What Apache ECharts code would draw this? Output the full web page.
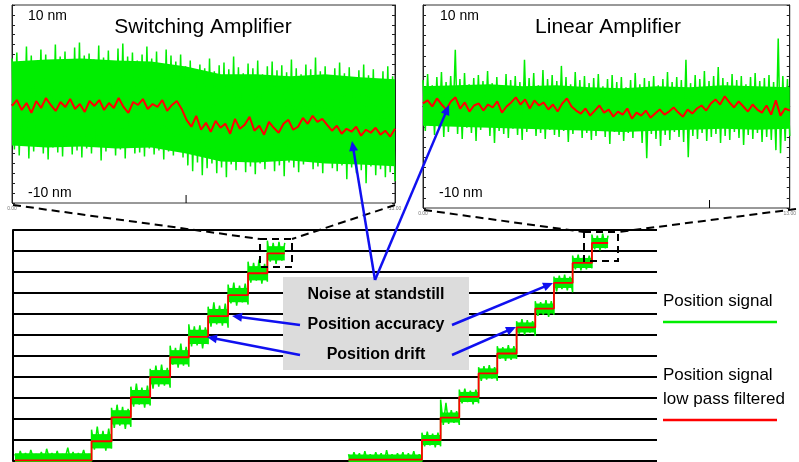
<!DOCTYPE html>
<html><head><meta charset="utf-8">
<script src="https://cdn.jsdelivr.net/npm/echarts@6/dist/echarts.min.js"></script>
<style>html,body{margin:0;padding:0;background:#fff}#c{width:799px;height:462px}</style>
</head><body><div id="c"></div>
<script>
// ---------- main staircase data (time in s, position in steps) ----------
const leftT = [0.3, 12.2, 15.3, 18.3, 21.3, 24.4, 27.3, 30.3, 33.4, 36.5, 39.5, 42.2];
const leftLevel = [0.03, 0.94, 2.08, 3.04, 3.99, 4.94, 5.91, 6.9, 7.9, 8.94, 9.89];
const leftCoreHalf = 0.34;
const leftNoise = [
  [0.3,-0.1,0.45,0.05,0.35,-0.05,0.5,0.1,0.3,0.0,0.4,-0.1,0.55,0.1,0.35,0.0,0.45,-0.05,0.3,0.1,0.6,0.0,0.4,-0.1,0.35,0.05,0.5,0.0,0.3,-0.05],
  [0.55,-0.4,0.7,-0.3,0.5,-0.45,0.6,-0.35],
  [0.45,-0.5,0.6,-0.4,0.5,-0.55,0.4,-0.45],
  [0.5,-0.45,0.65,-0.35,0.45,-0.5,0.55,-0.4],
  [0.4,-0.55,0.55,-0.45,0.6,-0.4,0.45,-0.5],
  [0.55,-0.35,0.45,-0.5,0.65,-0.4,0.5,-0.45],
  [0.6,-0.45,0.5,-0.4,0.55,-0.55,0.45,-0.35],
  [0.45,-0.5,0.65,-0.4,0.5,-0.45,0.6,-0.55],
  [0.5,-0.4,0.6,-0.5,0.45,-0.35,0.55,-0.45],
  [0.55,-0.45,0.5,-0.35,0.65,-0.5,0.45,-0.4],
  [0.6,-0.4,0.5,-0.5,0.55,-0.35,0.5]
];
const rightT = [52.1, 63.5, 66.4, 69.3, 72.3, 75.2, 78.2, 81.1, 84.0, 86.9, 89.9, 92.4];
const rightLevel = [0.07, 1.0, 2.07, 3.05, 4.17, 5.12, 6.36, 7.26, 8.48, 9.43, 10.38];
const rightCoreHalf = 0.24;
const rightNoise = [
  [0.25,-0.15,0.35,-0.05,0.3,-0.2,0.4,-0.1,0.25,-0.15,0.35,0.0,0.3,-0.2,0.45,-0.1,0.25,-0.15,0.3,-0.05,0.35,-0.2,0.3,-0.1,0.4,-0.15,0.25,-0.1],
  [0.35,-0.3,0.4,-0.25,0.3,-0.35,0.35,-0.3],
  [0.85,-0.35,0.7,-0.3,0.35,-0.25,0.3,-0.35],
  [0.35,-0.3,0.4,-0.25,0.3,-0.35,0.35,-0.3],
  [0.3,-0.35,0.35,-0.3,0.4,-0.25,0.3,-0.35],
  [0.35,-0.25,0.3,-0.35,0.4,-0.3,0.35,-0.25],
  [0.3,-0.3,0.4,-0.35,0.35,-0.25,0.3,-0.4],
  [0.35,-0.35,0.3,-0.3,0.4,-0.4,0.35,-0.3],
  [0.3,-0.4,0.35,-0.3,0.4,-0.35,0.3,-0.45],
  [0.35,-0.3,0.4,-0.35,0.3,-0.3,0.35,-0.25],
  [0.4,-0.3,0.35,-0.35,0.45,-0.25,0.35]
];

// ---------- inset data (nm) ----------
const swUpper = [4.6,5.2,4.1,5.8,4.9,4.3,5.5,5.0,4.4,6.0,4.8,5.3,4.2,5.7,6.2,4.9,5.1,4.5,5.9,4.7,5.4,4.0,5.6,6.1,4.8,5.2,4.4,5.0,5.8,4.6,5.3,4.1,5.5,4.9,4.3,5.0,
  3.8,4.4,3.2,4.0,3.6,4.6,3.3,3.9,4.2,3.5,4.8,3.7,3.1,4.1,3.6,4.4,3.0,3.8,4.3,3.4,3.9,3.2,4.5,3.6,3.0,4.0,3.5,4.7,3.3,3.8,2.9,3.6,4.2,3.1,3.7,2.6,3.4,4.0,2.9,3.5,2.4,3.3,3.8,2.8];
const swLower = [-4.6,-5.2,-4.0,-5.5,-4.8,-4.3,-5.0,-5.6,-4.4,-4.9,-5.3,-4.1,-5.1,-4.7,-5.4,-4.5,-5.0,-4.2,-5.7,-4.8,-4.4,-5.2,-4.6,-5.5,-4.3,-5.0,-4.9,-5.3,-4.5,-5.1,-4.7,-5.6,-4.8,-5.2,-4.6,-5.4,
  -6.2,-6.8,-5.9,-7.2,-6.5,-6.0,-7.0,-6.4,-7.4,-6.1,-6.7,-5.8,-6.9,-6.3,-7.1,-6.0,-6.6,-5.7,-6.8,-6.2,-7.3,-5.9,-6.4,-6.9,-6.1,-5.8,-6.6,-6.3,-7.0,-5.9,-6.5,-6.8,-6.2,-7.6,-6.4,-7.0,-6.7,-8.0,-6.3,-7.2,-6.6,-7.4,-6.9,-7.8];
const swCoreUp = [4.3, 4.5, 4.6, 4.4, 4.3, 3.8, 3.0, 3.0, 2.8, 3.0, 2.7, 2.5];
const swCoreLo = [-4.2, -4.4, -4.3, -4.5, -4.4, -5.0, -5.8, -5.9, -5.7, -6.0, -6.1, -6.3];
const swFiltered = [-0.2,0.4,-0.6,0.1,-0.9,0.3,-0.4,0.6,-0.1,-0.7,0.2,-0.3,0.5,-0.5,0.0,-0.8,0.3,-0.2,0.4,-0.6,0.1,-0.4,0.6,-0.3,-0.9,0.2,-0.1,0.5,-0.5,0.0,-0.3,0.4,-0.7,-0.1,0.3,-0.5,
  -1.6,-2.3,-1.2,-2.6,-1.9,-2.8,-1.7,-2.4,-2.0,-3.0,-1.5,-2.5,-2.1,-1.3,-2.7,-2.2,-3.1,-1.8,-2.4,-2.9,-2.0,-1.6,-2.6,-2.3,-1.4,-2.0,-1.2,-1.8,-1.5,-2.1,-2.7,-2.2,-3.0,-2.5,-2.8,-2.3,-3.2,-2.6,-2.9,-2.4,-3.1,-2.7,-3.3,-2.5];
const linUpper = [2.6,3.2,2.1,2.9,3.4,2.4,3.0,5.6,2.7,3.3,2.2,2.8,3.1,2.5,3.5,2.3,2.9,2.0,3.2,2.6,3.0,2.4,4.6,2.8,3.3,2.1,3.6,2.7,3.1,2.5,4.0,2.9,2.2,3.4,2.6,3.0,2.3,2.8,3.2,2.0,
  2.7,3.1,2.4,2.9,1.9,2.6,3.3,2.2,2.8,2.5,3.0,2.1,2.7,3.4,2.4,2.9,2.6,4.6,2.3,3.1,2.7,3.5,2.5,3.0,3.9,2.8,2.4,3.2,2.6,3.0,2.2,2.9,3.3,2.5,2.8,3.1,2.4,6.7,3.0,2.7];
const linLower = [-2.4,-1.9,-2.8,-2.2,-3.0,-2.5,-1.8,-2.7,-3.2,-2.1,-2.6,-3.4,-2.3,-2.0,-2.9,-3.6,-2.4,-2.7,-3.1,-2.2,-2.8,-3.3,-2.5,-2.0,-2.9,-2.6,-3.2,-2.3,-2.8,-3.0,-2.4,-3.5,-2.7,-2.1,-3.1,-2.6,-3.3,-2.9,-2.2,-3.0,
  -3.7,-2.5,-2.8,-3.4,-2.6,-3.1,-2.3,-3.6,-5.1,-2.7,-3.2,-3.9,-2.8,-3.3,-2.5,-3.0,-3.5,-5.0,-2.9,-3.2,-2.6,-3.4,-3.0,-2.7,-3.6,-2.9,-3.3,-2.5,-3.1,-3.8,-2.8,-3.2,-2.6,-3.5,-3.0,-3.3,-4.3,-4.6,-3.4,-2.9];
const linCoreUp = [2.0, 2.1, 2.2, 2.0, 2.1, 1.9, 1.8, 2.0, 1.9, 2.1, 2.0, 1.9];
const linCoreLo = [-1.9, -2.0, -2.1, -2.2, -2.3, -2.4, -2.5, -2.4, -2.3, -2.2, -2.3, -2.2];
const linFiltered = [0.3,0.6,0.0,0.8,0.2,-0.3,0.5,0.9,-0.2,0.4,-0.5,0.1,0.3,-0.4,0.2,-0.1,0.5,-0.6,0.0,0.4,0.9,0.2,0.7,-0.2,0.6,0.1,0.4,-0.3,0.2,-0.5,0.3,0.8,0.0,-0.4,-0.7,-0.2,-0.9,-0.4,0.1,-0.6,
  -0.3,-1.0,-0.5,-0.8,-0.2,-1.2,-0.6,-0.9,-0.4,-1.1,-0.7,-0.3,-0.8,-0.5,-0.1,-0.6,-1.0,-0.3,-0.7,-0.2,0.1,-0.4,0.3,0.7,0.2,1.0,0.4,-0.1,0.5,0.0,-0.5,0.2,-0.3,-0.6,0.1,-0.8,0.6,-0.9,-0.2,-0.4];

const insetTicksLeft = 11, insetTicksRight = 12.8;
const insetLabels = ['0.00', '13.00'];

// ---------- builders ----------
function zig(up, lo, xmax) {
  const n = Math.min(up.length, lo.length), N = 2 * n, out = [];
  for (let i = 0; i < n; i++) {
    out.push([(2 * i) * xmax / (N - 1), up[i]]);
    out.push([(2 * i + 1) * xmax / (N - 1), lo[i]]);
  }
  return out;
}
function corePoly(up, lo, xmax) {
  const top = up.map((v, i) => [i * xmax / (up.length - 1), v]);
  const bot = lo.map((v, i) => [i * xmax / (lo.length - 1), v]).reverse();
  return top.concat(bot);
}
function stairNoise(T, L, noise) {
  const out = [];
  for (let s = 0; s < L.length; s++) {
    const n = noise[s].length;
    for (let k = 0; k < n; k++) out.push([T[s] + k * (T[s + 1] - T[s]) / (n - 1), L[s] + noise[s][k]]);
  }
  return out;
}
function stairRed(T, L) {
  const out = [];
  for (let s = 0; s < L.length; s++) { out.push([T[s], L[s]]); out.push([T[s + 1], L[s]]); }
  return out;
}
function seq(v, xmax) { return v.map((y, i) => [i * xmax / (v.length - 1), y]); }

const FONT = '"Liberation Sans", Arial, sans-serif';
const G = '#00ee00', R = '#ff0000', B = '#1010f0';

function stairCoreSeries(T, L, half) {
  return {
    type: 'custom', xAxisIndex: 0, yAxisIndex: 0, z: 3,
    data: L.map((l, s) => [T[s], l]),
    renderItem: function (params, api) {
      const s = params.dataIndex;
      const a = api.coord([T[s], L[s] + half]), b = api.coord([T[s + 1], L[s] - half]);
      return { type: 'rect', shape: { x: a[0], y: a[1], width: b[0] - a[0], height: b[1] - a[1] }, style: { fill: G } };
    }
  };
}
function insetCoreSeries(xi, yi, up, lo, xmax) {
  return {
    type: 'custom', xAxisIndex: xi, yAxisIndex: yi, z: 3, data: [[0, 0]],
    renderItem: function (params, api) {
      const pts = corePoly(up, lo, xmax).map(p => api.coord(p));
      return { type: 'polygon', shape: { points: pts }, style: { fill: G } };
    }
  };
}
function greenLine(xi, yi, data, w) {
  return { type: 'line', xAxisIndex: xi, yAxisIndex: yi, data: data, symbol: 'none', lineStyle: { color: G, width: w }, z: 3 };
}
function redLine(xi, yi, data, w) {
  return { type: 'line', xAxisIndex: xi, yAxisIndex: yi, data: data, symbol: 'none', lineStyle: { color: R, width: w }, z: 4 };
}

function insetX(grid, max) {
  return {
    gridIndex: grid, type: 'value', min: 0, max: max, interval: 1,
    axisLine: { show: true, lineStyle: { color: '#222', width: 1 } },
    axisTick: { show: true, inside: true, length: 3, lineStyle: { color: '#222' } },
    axisLabel: { show: true, fontSize: 5, color: '#777', margin: 3, showMinLabel: true, showMaxLabel: true,
      formatter: v => v === 0 ? insetLabels[0] : (Math.abs(v - max) < 1e-6 ? insetLabels[1] : '') },
    splitLine: { show: false }
  };
}
function insetY(grid, pos) {
  return {
    gridIndex: grid, type: 'value', min: -10, max: 10, interval: 1, position: pos,
    axisLine: { show: true, onZero: false, lineStyle: { color: '#222', width: 1 } },
    axisTick: { show: true, inside: true, length: 3, lineStyle: { color: '#222' } },
    axisLabel: { show: false }, splitLine: { show: false }
  };
}

function txt(text, x, y, font, align) {
  return { type: 'text', z: 50, style: { text: text, x: x, y: y, font: font, fill: '#000',
    textAlign: align || 'left', align: align || 'left', textVerticalAlign: 'middle', verticalAlign: 'middle' } };
}
function dline(x1, y1, x2, y2) {
  return { type: 'line', z: 40, shape: { x1, y1, x2, y2 }, style: { stroke: '#000', lineWidth: 2, lineDash: [8, 5] } };
}
function arrow(x1, y1, x2, y2) {
  const dx = x2 - x1, dy = y2 - y1, L = Math.hypot(dx, dy), ux = dx / L, uy = dy / L;
  const hl = 10, hw = 4.5;
  const bx = x2 - ux * hl, by = y2 - uy * hl;
  return [
    { type: 'line', z: 45, shape: { x1, y1, x2: bx + ux * 2, y2: by + uy * 2 }, style: { stroke: B, lineWidth: 2.5 } },
    { type: 'polygon', z: 45, shape: { points: [[x2, y2], [bx - uy * hw, by + ux * hw], [bx + uy * hw, by - ux * hw]] }, style: { fill: B } }
  ];
}

const graphics = [
  txt('10 nm', 28, 16, '14px ' + FONT), txt('-10 nm', 28, 193, '14px ' + FONT),
  txt('Switching Amplifier', 203, 27, '21px ' + FONT, 'center'),
  txt('10 nm', 440, 16, '14px ' + FONT), txt('-10 nm', 439, 193, '14px ' + FONT),
  txt('Linear Amplifier', 608, 27, '21px ' + FONT, 'center'),
  dline(13, 205, 260, 239), dline(395, 205, 292, 239),
  dline(424, 210, 584, 232), dline(796, 209, 618, 232),
  { type: 'rect', z: 40, shape: { x: 260, y: 239, width: 32, height: 28 }, style: { fill: 'none', stroke: '#000', lineWidth: 2, lineDash: [7, 5] } },
  { type: 'rect', z: 40, shape: { x: 584, y: 232, width: 34, height: 29 }, style: { fill: 'none', stroke: '#000', lineWidth: 2, lineDash: [7, 5] } },
  { type: 'rect', z: 42, shape: { x: 283, y: 277, width: 186, height: 93 }, style: { fill: '#dcdcdc' } },
  txt('Noise at standstill', 376, 295, 'bold 16px ' + FONT, 'center'),
  txt('Position accuracy', 376, 325, 'bold 16px ' + FONT, 'center'),
  txt('Position drift', 376, 355, 'bold 16px ' + FONT, 'center'),
  ...arrow(375, 280, 352, 141), ...arrow(375, 280, 449, 105),
  ...arrow(300, 325, 232, 316), ...arrow(452, 325, 553, 283),
  ...arrow(300, 355, 207, 337), ...arrow(452, 355, 516, 327),
  txt('Position signal', 663, 301, '17px ' + FONT),
  { type: 'line', z: 40, shape: { x1: 663, y1: 322, x2: 777, y2: 322 }, style: { stroke: G, lineWidth: 2.5 } },
  txt('Position signal', 663, 375, '17px ' + FONT),
  txt('low pass filtered', 663, 399, '17px ' + FONT),
  { type: 'line', z: 40, shape: { x1: 663, y1: 420, x2: 777, y2: 420 }, style: { stroke: R, lineWidth: 2.5 } }
];

const chart = echarts.init(document.getElementById('c'), null, { renderer: 'canvas' });
chart.setOption({
  animation: false,
  backgroundColor: '#fff',
  grid: [
    { left: 13, top: 230, width: 644, height: 231, show: false },
    { left: 12, top: 5, width: 383, height: 198, show: true, borderColor: '#333', borderWidth: 1 },
    { left: 423, top: 5, width: 372, height: 203, show: true, borderColor: '#333', borderWidth: 1 }
  ],
  xAxis: [
    { gridIndex: 0, type: 'value', min: 0, max: 100, show: false },
    insetX(1, insetTicksLeft),
    insetX(2, insetTicksRight)
  ],
  yAxis: [
    { gridIndex: 0, type: 'value', min: 0, max: 11, interval: 1,
      axisLine: { show: true, lineStyle: { color: '#000', width: 2 } }, axisTick: { show: false }, axisLabel: { show: false },
      splitLine: { show: true, lineStyle: { color: '#000', width: 2 } } },
    insetY(1, 'left'), insetY(1, 'right'), insetY(2, 'left'), insetY(2, 'right')
  ],
  series: [
    stairCoreSeries(leftT, leftLevel, leftCoreHalf),
    greenLine(0, 0, stairNoise(leftT, leftLevel, leftNoise), 1.5),
    redLine(0, 0, stairRed(leftT, leftLevel), 1.8),
    stairCoreSeries(rightT, rightLevel, rightCoreHalf),
    greenLine(0, 0, stairNoise(rightT, rightLevel, rightNoise), 1.5),
    redLine(0, 0, stairRed(rightT, rightLevel), 1.8),
    insetCoreSeries(1, 1, swCoreUp, swCoreLo, insetTicksLeft),
    greenLine(1, 1, zig(swUpper, swLower, insetTicksLeft), 1.5),
    redLine(1, 1, seq(swFiltered, insetTicksLeft), 2),
    insetCoreSeries(2, 3, linCoreUp, linCoreLo, insetTicksRight),
    greenLine(2, 3, zig(linUpper, linLower, insetTicksRight), 1.5),
    redLine(2, 3, seq(linFiltered, insetTicksRight), 2)
  ],
  graphic: graphics
});
// taller centre ticks on the inset time axes
const p1 = chart.convertToPixel({ xAxisIndex: 1, yAxisIndex: 1 }, [5, -10]);
const p2 = chart.convertToPixel({ xAxisIndex: 2, yAxisIndex: 3 }, [10, -10]);
chart.setOption({ graphic: graphics.concat([
  { type: 'line', z: 40, shape: { x1: p1[0], y1: p1[1], x2: p1[0], y2: p1[1] - 8 }, style: { stroke: '#000', lineWidth: 1 } },
  { type: 'line', z: 40, shape: { x1: p2[0], y1: p2[1], x2: p2[0], y2: p2[1] - 8 }, style: { stroke: '#000', lineWidth: 1 } }
]) }, { replaceMerge: ['graphic'] });
</script>
</body></html>
